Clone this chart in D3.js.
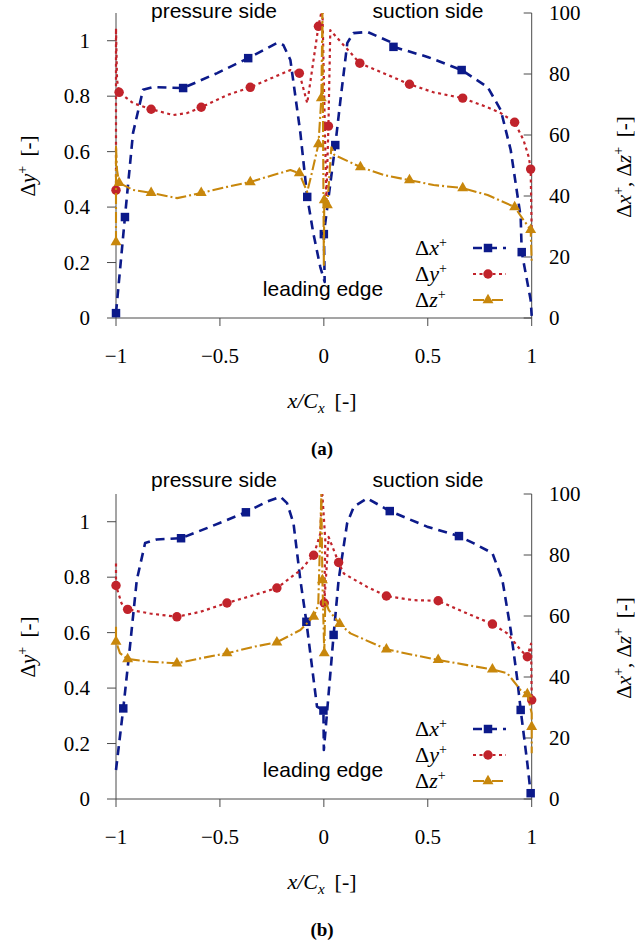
<!DOCTYPE html>
<html>
<head>
<meta charset="utf-8">
<script src="https://cdn.jsdelivr.net/npm/d3@7"></script>
<style>
  body { margin: 0; background: #fff; }
  svg { display: block; }
</style>
</head>
<body>
<div id="chart"></div>
<script>
// Ticks
let xTicks = [-1, -0.5, 0, 0.5, 1];
let yTicksLeft = [0, 0.2, 0.4, 0.6, 0.8, 1];
let yTicksRight = [0, 20, 40, 60, 80, 100];
let xTickLabels = ["\u22121", "\u22120.5", "0", "0.5", "1"];
let yTickLabelsLeft = ["0", "0.2", "0.4", "0.6", "0.8", "1"];
let yTickLabelsRight = ["0", "20", "40", "60", "80", "100"];

// Panel (a) -- [x/Cx, value], dx and dz on right axis, dy on left axis
let a_dx = [[-1, 1.6], [-0.957, 33.1], [-0.918, 60.7], [-0.87, 74.8], [-0.822, 75.7], [-0.677, 75.4],
  [-0.513, 80.3], [-0.364, 85.2], [-0.224, 90.2], [-0.195, 89.5], [-0.161, 84.6], [-0.113, 60.7],
  [-0.08, 39.7], [-0.051, 27.9], [-0.017, 16.7], [0.004, 11.8], [0.0, 27.5], [0.055, 56.7],
  [0.08, 71.5], [0.113, 90.2], [0.142, 93.4], [0.21, 93.8], [0.32, 90.5], [0.335, 88.9],
  [0.499, 85.6], [0.663, 81.3], [0.788, 75.7], [0.851, 68.2], [0.899, 55.1], [0.947, 33.1],
  [0.952, 21.6], [0.995, 5.9], [1, 0.7]];
let a_dxMarks = [[-1, 1.6], [-0.957, 33.1], [-0.677, 75.4], [-0.364, 85.2], [-0.08, 39.7],
  [0.0, 27.5], [0.055, 56.7], [0.335, 88.9], [0.663, 81.3], [0.952, 21.6]];

let a_dy = [[-1, 0.461], [-1, 1.045], [-0.995, 0.858], [-0.985, 0.814], [-0.918, 0.775], [-0.831, 0.753],
  [-0.725, 0.732], [-0.658, 0.739], [-0.59, 0.76], [-0.465, 0.804], [-0.354, 0.832], [-0.243, 0.868],
  [-0.161, 0.894], [-0.118, 0.883], [-0.08, 0.775], [-0.026, 1.052], [-0.007, 1.12], [0.007, 0.605],
  [0.012, 0.425], [0.022, 0.692], [0.031, 1.038], [0.173, 0.919], [0.287, 0.883], [0.412, 0.843],
  [0.528, 0.814], [0.668, 0.793], [0.788, 0.76], [0.851, 0.739], [0.918, 0.706], [0.961, 0.641],
  [0.986, 0.58], [0.995, 0.537], [1, 0.306]];
let a_dyMarks = [[-1, 0.461], [-0.985, 0.814], [-0.831, 0.753], [-0.59, 0.76], [-0.354, 0.832],
  [-0.118, 0.883], [-0.026, 1.052], [0.022, 0.692], [0.173, 0.919], [0.412, 0.843], [0.668, 0.793],
  [0.918, 0.706], [0.995, 0.537]];

let a_dz = [[-1, 24.9], [-1, 56.1], [-0.995, 48.5], [-0.985, 44.3], [-0.918, 42.0], [-0.831, 41.0],
  [-0.706, 39.3], [-0.59, 41.0], [-0.465, 43.0], [-0.354, 44.6], [-0.243, 46.9], [-0.161, 48.5],
  [-0.118, 47.5], [-0.08, 41.3], [-0.058, 47.5], [-0.026, 57.0], [-0.012, 72.1], [-0.007, 100],
  [0.0, 17.4], [0.002, 38.7], [0.017, 37.0], [0.036, 56.0], [0.05, 53.5], [0.176, 49.5],
  [0.287, 46.9], [0.412, 45.2], [0.528, 43.6], [0.668, 42.6], [0.788, 40.3], [0.918, 36.4],
  [0.961, 32.1], [0.995, 28.9], [1, 18.0]];
let a_dzMarks = [[-1, 24.9], [-0.985, 44.3], [-0.831, 41.0], [-0.59, 41.0], [-0.354, 44.6],
  [-0.118, 47.5], [-0.026, 57.0], [-0.012, 72.1], [0.002, 38.7], [0.017, 37.0], [0.176, 49.5],
  [0.412, 45.2], [0.668, 42.6], [0.918, 36.4], [0.995, 28.9]];

// Panel (b)
let b_dx = [[-1, 9.5], [-0.965, 29.7], [-0.933, 49.9], [-0.9, 71.8], [-0.86, 83.9], [-0.804, 85.1],
  [-0.687, 85.5], [-0.563, 88.8], [-0.375, 94.0], [-0.274, 97.5], [-0.209, 99.1], [-0.177, 97.0],
  [-0.146, 90.4], [-0.113, 71.8], [-0.084, 58.1], [-0.049, 39.0], [-0.033, 30.3], [-0.002, 29.0],
  [0.0, 16.1], [0.047, 53.8], [0.071, 71.8], [0.112, 90.4], [0.144, 95.8], [0.208, 98.6],
  [0.317, 94.4], [0.497, 89.3], [0.65, 86.2], [0.722, 83.8], [0.811, 80.6], [0.859, 71.8],
  [0.899, 55.4], [0.931, 39.0], [0.947, 29.2], [0.979, 11.7], [0.995, 1.9]];
let b_dxMarks = [[-0.965, 29.7], [-0.687, 85.5], [-0.375, 94.0], [-0.084, 58.1], [-0.002, 29.0],
  [0.047, 53.8], [0.317, 94.4], [0.65, 86.2], [0.947, 29.2], [0.995, 1.9]];

let b_dy = [[-1, 0.849], [-1, 0.77], [-0.973, 0.705], [-0.944, 0.684], [-0.836, 0.669], [-0.707, 0.657],
  [-0.595, 0.675], [-0.466, 0.707], [-0.338, 0.735], [-0.226, 0.761], [-0.113, 0.825], [-0.049, 0.879],
  [-0.017, 0.957], [-0.009, 1.12], [0.007, 0.933], [0.002, 0.707], [0.023, 0.945], [0.071, 0.853],
  [0.096, 0.813], [0.208, 0.765], [0.301, 0.732], [0.433, 0.717], [0.55, 0.715], [0.69, 0.669],
  [0.811, 0.631], [0.883, 0.597], [0.947, 0.537], [0.979, 0.513], [0.997, 0.56], [1, 0.357]];
let b_dyMarks = [[-1, 0.77], [-0.944, 0.684], [-0.707, 0.657], [-0.466, 0.707], [-0.226, 0.761],
  [-0.049, 0.879], [0.002, 0.707], [0.071, 0.853], [0.301, 0.732], [0.55, 0.715], [0.811, 0.631],
  [0.979, 0.513], [1, 0.357]];

let b_dz = [[-1, 56.5], [-1, 51.6], [-0.981, 47.8], [-0.944, 45.9], [-0.836, 45.0], [-0.707, 44.5],
  [-0.595, 46.1], [-0.466, 47.8], [-0.338, 49.9], [-0.226, 51.4], [-0.113, 55.4], [-0.049, 59.8],
  [-0.027, 63.6], [-0.012, 99.7], [-0.007, 71.8], [0.002, 47.8], [0.007, 65.2], [0.023, 62.0],
  [0.076, 57.4], [0.128, 54.3], [0.301, 49.1], [0.433, 47.2], [0.55, 45.6], [0.69, 43.9],
  [0.811, 42.5], [0.883, 41.2], [0.947, 35.7], [0.979, 34.4], [1, 28.1], [1, 23.7], [1, 15.0]];
let b_dzMarks = [[-1, 51.6], [-0.944, 45.9], [-0.707, 44.5], [-0.466, 47.8], [-0.226, 51.4],
  [-0.049, 59.8], [-0.007, 71.8], [0.002, 47.8], [0.076, 57.4], [0.301, 49.1], [0.55, 45.6],
  [0.811, 42.5], [0.979, 34.4], [1, 23.7]];

let legendNames = ["x", "y", "z"];
let sideLabels = ["pressure side", "suction side", "leading edge"];
let panelCaptions = ["(a)", "(b)"];

// Layout
let width = 635, height = 946;
let plot = {left: 116, right: 531.7, top: 13, bottom: 318};
let panelOffsets = [0, 481];
let topLabelY = [18, 6];

let blue = "#0c1a8a", red = "#c1232b", gold = "#c8870c", axisColor = "#4a4a4a";
let serif = "'Liberation Serif', 'Times New Roman', serif";
let sans = "'Liberation Sans', Arial, sans-serif";

let xScale = d3.scaleLinear().domain([-1, 1]).range([plot.left, plot.right]);
let yLeft = d3.scaleLinear().domain([0, 1.1]).range([plot.bottom, plot.top]);
let yRight = d3.scaleLinear().domain([0, 100]).range([plot.bottom, plot.top]);

let styles = [
  {color: blue, width: 2.6, dash: "9,6", symbol: d3.symbolSquare, size: 72, scale: yRight},
  {color: red, width: 2.2, dash: "3,3.5", symbol: d3.symbolCircle, size: 70, scale: yLeft},
  {color: gold, width: 2.1, dash: "11,3,2,3", symbol: d3.symbolTriangle, size: 52, scale: yRight}
];

let panels = [
  {series: [[a_dx, a_dxMarks], [a_dy, a_dyMarks], [a_dz, a_dzMarks]]},
  {series: [[b_dx, b_dxMarks], [b_dy, b_dyMarks], [b_dz, b_dzMarks]]}
];

let svg = d3.select("#chart").append("svg")
  .attr("width", width)
  .attr("height", height);

svg.append("defs").append("clipPath").attr("id", "clip")
  .append("rect")
  .attr("x", 0).attr("y", plot.top)
  .attr("width", width).attr("height", 400);

function supText(sel, base, italic, sup) {
  sel.append("tspan").text(base);
  sel.append("tspan").attr("font-style", "italic").text(italic);
  sel.append("tspan").attr("dy", -8).attr("font-size", 14).text(sup);
}

panels.forEach((p, pi) => {
  let g = svg.append("g").attr("transform", "translate(0," + panelOffsets[pi] + ")");

  // Axes lines
  let axes = g.append("g").attr("stroke", axisColor).attr("stroke-width", 1).attr("fill", "none");
  axes.append("line").attr("x1", plot.left).attr("x2", plot.right)
    .attr("y1", plot.bottom).attr("y2", plot.bottom);
  axes.append("line").attr("x1", plot.left).attr("x2", plot.left)
    .attr("y1", plot.top).attr("y2", plot.bottom);
  axes.append("line").attr("x1", plot.right).attr("x2", plot.right)
    .attr("y1", plot.top).attr("y2", plot.bottom);

  axes.selectAll(".xt").data(xTicks).enter().append("line")
    .attr("x1", d => xScale(d)).attr("x2", d => xScale(d))
    .attr("y1", plot.bottom).attr("y2", plot.bottom + 8);
  axes.selectAll(".ylt").data(yTicksLeft).enter().append("line")
    .attr("x1", plot.left - 9).attr("x2", plot.left)
    .attr("y1", d => yLeft(d)).attr("y2", d => yLeft(d));
  axes.selectAll(".yrt").data(yTicksRight).enter().append("line")
    .attr("x1", plot.right - 8).attr("x2", plot.right)
    .attr("y1", d => yRight(d)).attr("y2", d => yRight(d));

  // Tick labels
  g.selectAll(".xl").data(xTicks).enter().append("text")
    .attr("x", d => xScale(d)).attr("y", plot.bottom + 45)
    .attr("text-anchor", "middle")
    .attr("font-family", serif).attr("font-size", 21)
    .text((d, i) => xTickLabels[i]);
  g.selectAll(".yl").data(yTicksLeft).enter().append("text")
    .attr("x", 90).attr("y", d => yLeft(d)).attr("dy", "0.34em")
    .attr("text-anchor", "end")
    .attr("font-family", serif).attr("font-size", 21)
    .text((d, i) => yTickLabelsLeft[i]);
  g.selectAll(".yr").data(yTicksRight).enter().append("text")
    .attr("x", 549).attr("y", d => yRight(d)).attr("dy", "0.34em")
    .attr("text-anchor", "start")
    .attr("font-family", serif).attr("font-size", 21)
    .text((d, i) => yTickLabelsRight[i]);

  // Axis titles
  let yl = g.append("text")
    .attr("transform", "translate(35,166) rotate(-90)")
    .attr("text-anchor", "middle")
    .attr("font-family", serif).attr("font-size", 21);
  supText(yl, "\u0394", "y", "+");
  yl.append("tspan").attr("dy", 8).text("\u2009 [-]");

  let yr = g.append("text")
    .attr("transform", "translate(631,167) rotate(-90)")
    .attr("text-anchor", "middle")
    .attr("font-family", serif).attr("font-size", 21);
  supText(yr, "\u0394", "x", "+");
  yr.append("tspan").attr("dy", 8).text(", ");
  supText(yr, "\u0394", "z", "+");
  yr.append("tspan").attr("dy", 8).text("\u2009 [-]");

  let xl = g.append("text")
    .attr("x", 322).attr("y", 408)
    .attr("text-anchor", "middle")
    .attr("font-family", serif).attr("font-size", 22);
  xl.append("tspan").attr("font-style", "italic").text("x/C");
  xl.append("tspan").attr("font-style", "italic").attr("dy", 5).attr("font-size", 15).text("x");
  xl.append("tspan").attr("dy", -5).text("\u2009 [-]");

  g.append("text")
    .attr("x", 322).attr("y", 455)
    .attr("text-anchor", "middle")
    .attr("font-family", serif).attr("font-size", 19).attr("font-weight", "bold")
    .text(panelCaptions[pi]);

  // Region labels
  g.append("text").attr("x", 214).attr("y", topLabelY[pi])
    .attr("text-anchor", "middle").attr("font-family", sans).attr("font-size", 21)
    .text(sideLabels[0]);
  g.append("text").attr("x", 428).attr("y", topLabelY[pi])
    .attr("text-anchor", "middle").attr("font-family", sans).attr("font-size", 21)
    .text(sideLabels[1]);
  g.append("text").attr("x", 323).attr("y", 296)
    .attr("text-anchor", "middle").attr("font-family", sans).attr("font-size", 21)
    .text(sideLabels[2]);

  // Series
  let data = g.append("g").attr("clip-path", "url(#clip)");
  p.series.forEach((s, si) => {
    let st = styles[si];
    let line = d3.line()
      .x(d => xScale(d[0]))
      .y(d => st.scale(d[1]));
    data.append("path")
      .datum(s[0])
      .attr("d", line)
      .attr("fill", "none")
      .attr("stroke", st.color)
      .attr("stroke-width", st.width)
      .attr("stroke-dasharray", st.dash)
      .attr("stroke-linejoin", "round");
    data.selectAll(".m" + si).data(s[1]).enter().append("path")
      .attr("d", d3.symbol().type(st.symbol).size(st.size))
      .attr("transform", d => "translate(" + xScale(d[0]) + "," + st.scale(d[1]) + ")")
      .attr("fill", st.color);
  });

  // Legend
  let legendY = [248, 274, 300];
  styles.forEach((st, i) => {
    let t = g.append("text")
      .attr("x", 415).attr("y", legendY[i] + 7)
      .attr("font-family", serif).attr("font-size", 22);
    supText(t, "\u0394", legendNames[i], "+");
    g.append("line")
      .attr("x1", 473).attr("x2", 506)
      .attr("y1", legendY[i]).attr("y2", legendY[i])
      .attr("stroke", st.color)
      .attr("stroke-width", st.width)
      .attr("stroke-dasharray", st.dash);
    g.append("path")
      .attr("d", d3.symbol().type(st.symbol).size(st.size))
      .attr("transform", "translate(488," + legendY[i] + ")")
      .attr("fill", st.color);
  });
});
</script>
</body>
</html>
